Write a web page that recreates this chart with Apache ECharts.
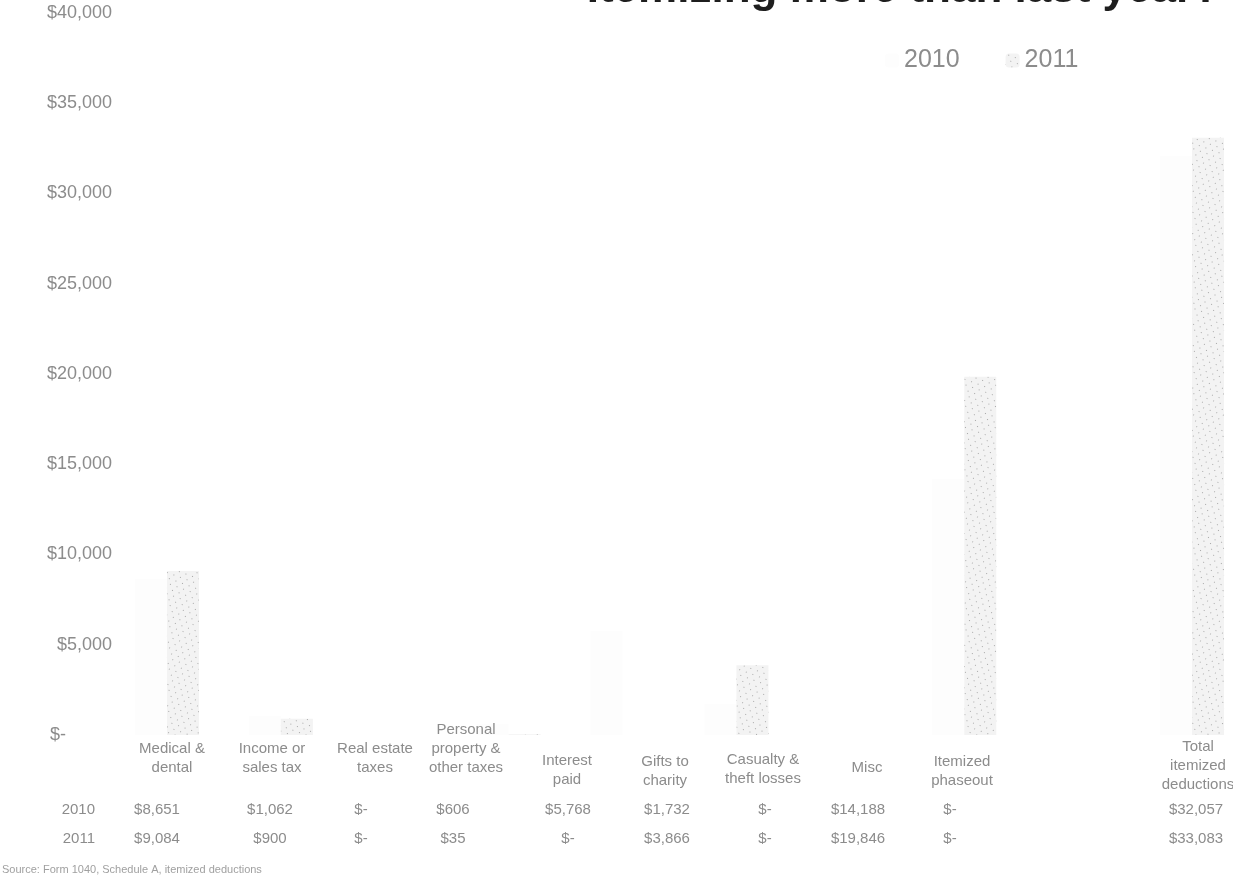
<!DOCTYPE html>
<html>
<head>
<meta charset="utf-8">
<script src="https://cdn.jsdelivr.net/npm/echarts@6/dist/echarts.min.js"></script>
<style>
html,body{margin:0;padding:0;background:#fff;}
#chart{width:1233px;height:878px;}
</style>
</head>
<body>
<div id="chart"></div>
<script>
// ---- data ----
const categories = ["Medical &\ndental", "Income or\nsales tax", "Real estate\ntaxes", "Personal\nproperty &\nother taxes", "Interest\npaid", "Gifts to\ncharity", "Casualty &\ntheft losses", "Misc", "Itemized\nphaseout", "Total\nitemized\ndeductions"];
const seriesNames = ["2010", "2011"];
const values2010 = [8651, 1062, 0, 606, 5768, 1732, 0, 14188, 0, 32057];
const values2011 = [9084, 900, 0, 35, 0, 3866, 0, 19846, 0, 33083];
const titleText = "Itemizing more than last year?";
const noteText = "Source: Form 1040, Schedule A, itemized deductions";

// ---- layout (table positions, not data) ----
const nameX = [172, 272, 375, 466, 567, 665, 763, 867, 962, 1198];
const nameY = [758, 758, 758, 749, 770, 771, 769, 768, 771, 766];
const valX = [157, 270, 361, 453, 568, 667, 765, 858, 950, 1196];
const rowY = [810, 839];

const gray = '#8c8c8c';
const fam = 'Liberation Sans, Arial, sans-serif';
function money(v){ return v === 0 ? '$-' : '$' + v.toLocaleString('en-US'); }

const graphics = [];
categories.forEach((c, i) => {
  graphics.push({type:'text', x:nameX[i], y:nameY[i], z:100, silent:true,
    style:{text:c, fill:gray, fontSize:15, fontFamily:fam, align:'center', verticalAlign:'middle', lineHeight:19}});
});
[values2010, values2011].forEach((arr, r) => {
  graphics.push({type:'text', x:95, y:rowY[r], z:100, silent:true,
    style:{text:seriesNames[r], fill:gray, fontSize:15, fontFamily:fam, align:'right', verticalAlign:'middle'}});
  arr.forEach((v, i) => {
    graphics.push({type:'text', x:valX[i], y:rowY[r], z:100, silent:true,
      style:{text:money(v), fill:gray, fontSize:15, fontFamily:fam, align:'center', verticalAlign:'middle'}});
  });
});
graphics.push({type:'text', left:2, top:864, z:100, silent:true,
  style:{text:noteText, fill:'#a0a0a0', fontSize:11, fontFamily:fam}});

const chart = echarts.init(document.getElementById('chart'), null, {renderer:'canvas'});
chart.setOption({
  animation:false,
  backgroundColor:'#ffffff',
  title:{text:titleText, right:8, top:-37,
    textStyle:{fontSize:44, fontWeight:'bold', color:'#1e1e1e', fontFamily:fam}},
  legend:{data:seriesNames, left:880, top:43, itemGap:46, itemWidth:14, itemHeight:14,
    textStyle:{fontSize:25, color:gray, fontFamily:fam}},
  grid:{left:110, right:-16, top:13, bottom:143, containLabel:false, outerBoundsMode:'none'},
  xAxis:{type:'category', data:categories, axisLine:{show:false}, axisTick:{show:false},
    axisLabel:{show:false}, splitLine:{show:false}},
  yAxis:{type:'value', min:0, max:40000, interval:5000,
    axisLine:{show:false}, axisTick:{show:false}, splitLine:{show:false},
    axisLabel:{margin:-2, color:gray, fontSize:18, fontFamily:fam,
      formatter:function(v){ return v === 0 ? '{z|$-}' : '$' + v.toLocaleString('en-US'); },
      rich:{z:{width:62, align:'left', color:gray, fontSize:18, fontFamily:fam}}}},
  series:[
    {name:seriesNames[0], type:'bar', data:values2010, barWidth:32, barGap:'0%',
      itemStyle:{color:'#fdfdfd'}},
    {name:seriesNames[1], type:'bar', data:values2011, barWidth:32,
      itemStyle:{color:'#f3f3f3',
        decal:{symbol:'rect', symbolSize:1, color:'rgba(110,110,110,0.55)',
          dashArrayX:[[1,6],[0,3,1,3]], dashArrayY:[1,4], rotation:0.35}}}
  ],
  graphic:graphics
});
</script>
</body>
</html>
